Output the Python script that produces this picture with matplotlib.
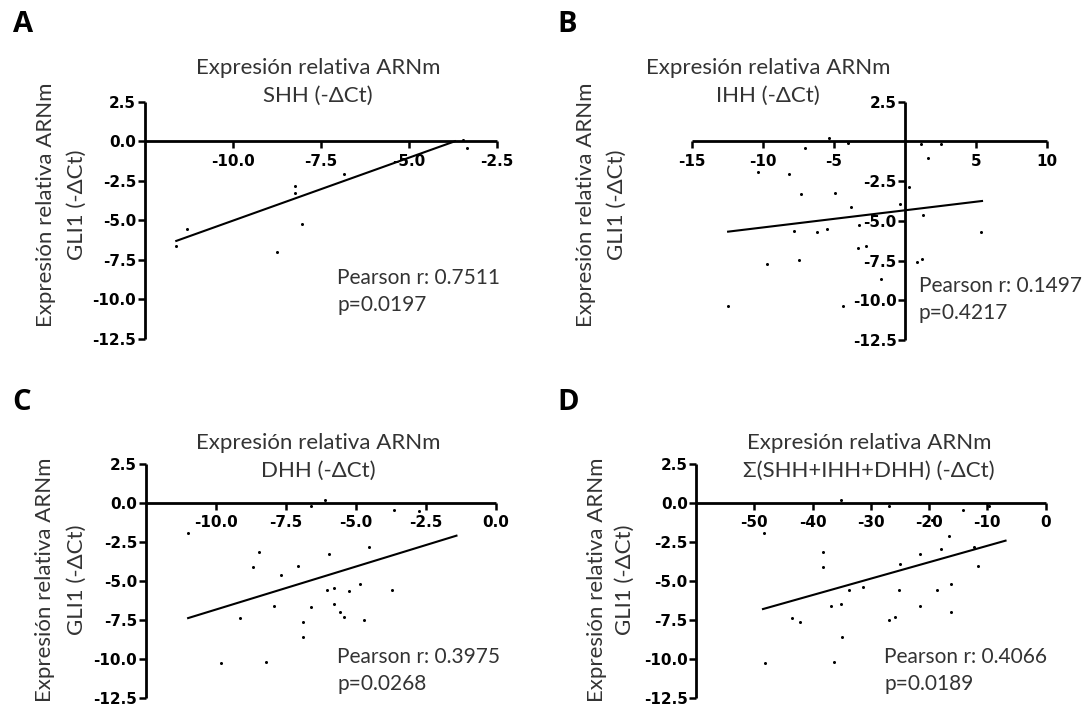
"""Four-panel GLI1 vs hedgehog ligand expression scatter plots."""

import matplotlib

matplotlib.use("Agg")
import matplotlib.pyplot as plt

# Panel A: SHH
shh_x = [-11.6, -11.3, -8.75, -8.24, -8.24, -8.04, -6.85, -3.48, -3.36]
shh_y = [-6.65, -5.55, -7.0, -2.85, -3.25, -5.2, -2.07, 0.1, -0.4]
shh_fit_x = [-11.6, -3.7]
shh_fit_y = [-6.3, 0.0]

# Panel B: IHH
ihh_x = [-5.37, -4.02, -7.02, 1.1, 2.56, 1.59, -10.37, -8.17, 0.29, -7.32,
         -4.93, -3.83, -0.37, 1.29, -3.22, -7.8, -6.22, -5.49, 5.37, -3.29,
         -2.73, -9.71, -7.44, 0.85, 1.17, -1.71, -12.44, -4.39]
ihh_y = [0.21, -0.1, -0.42, -0.17, -0.17, -1.02, -1.95, -2.08, -2.86, -3.28,
         -3.22, -4.13, -3.96, -4.66, -5.25, -5.61, -5.68, -5.51, -5.68, -6.74,
         -6.57, -7.73, -7.46, -7.58, -7.37, -8.69, -10.38, -10.34]
ihh_fit_x = [-12.44, 5.41]
ihh_fit_y = [-5.68, -3.75]

# Panel C: DHH
dhh_x = [-6.10, -6.59, -3.64, -2.74, -10.98, -8.44, -5.95, -4.52, -8.67, -7.06,
         -7.67, -6.04, -5.79, -5.25, -4.85, -3.71, -7.91, -6.59, -5.77, -5.55,
         -5.43, -9.12, -4.69, -6.90, -6.90, -9.82, -8.20]
dhh_y = [0.21, -0.17, -0.43, -0.54, -1.93, -3.15, -3.25, -2.85, -4.11, -4.07,
         -4.65, -5.57, -5.46, -5.63, -5.20, -5.61, -6.6, -6.68, -6.49, -7.02,
         -7.34, -7.39, -7.49, -7.67, -8.63, -10.28, -10.24]
dhh_fit_x = [-10.98, -1.41]
dhh_fit_y = [-7.39, -2.10]

# Panel D: sum of the three ligands
sum_x = [-35.05, -26.95, -14.18, -9.63, -48.3, -19.4, -16.55, -38.2, -21.6, -17.9,
         -12.2, -38.2, -25.0, -11.6, -33.7, -31.3, -25.1, -18.7, -16.3, -36.9,
         -35.05, -21.6, -16.3, -43.5, -42.1, -26.8, -25.9, -34.9, -48.2, -36.3]
sum_y = [0.21, -0.17, -0.43, -0.21, -1.93, -1.11, -2.10, -3.15, -3.25, -2.96,
         -2.85, -4.11, -3.90, -4.07, -5.61, -5.42, -5.57, -5.61, -5.20, -6.60,
         -6.49, -6.64, -7.0, -7.39, -7.67, -7.49, -7.32, -8.63, -10.28, -10.24]
sum_fit_x = [-48.5, -6.86]
sum_fit_y = [-6.81, -2.42]

y_ticks = [2.5, 0.0, -2.5, -5.0, -7.5, -10.0, -12.5]

FIG_W, FIG_H = 1083, 708
TEXT_FONT = ["Lato", "DejaVu Sans"]
TICK_FONT = ["DejaVu Sans"]
TEXT_COLOR = "#333333"


def fig_box(x0, x1, y_top, y_bottom):
    """Convert a pixel box into figure-fraction axes rectangle."""
    return [x0 / FIG_W, 1 - y_bottom / FIG_H, (x1 - x0) / FIG_W, (y_bottom - y_top) / FIG_H]


def draw_panel(fig, box, x, y, fit_x, fit_y, *, xlim, xticks, xfmt, yticks,
               y_spine_at_zero):
    ax = fig.add_axes(box)
    ax.set_xlim(*xlim)
    ax.set_ylim(-12.5, 2.5)
    ax.plot(x, y, "o", color="black", markersize=2.2, markeredgewidth=0, clip_on=False)
    ax.plot(fit_x, fit_y, color="black", linewidth=1.5, clip_on=False)

    for side in ("top", "right"):
        ax.spines[side].set_visible(False)
    ax.spines["bottom"].set_position(("data", 0))
    if y_spine_at_zero:
        ax.spines["left"].set_position(("data", 0))
    for side in ("bottom", "left"):
        ax.spines[side].set_linewidth(2.0)
        ax.spines[side].set_capstyle("butt")

    ax.set_xticks(xticks)
    ax.set_xticklabels([xfmt.format(v) for v in xticks])
    ax.set_yticks(yticks)
    ax.set_yticklabels([f"{v:.1f}" for v in yticks])
    ax.tick_params(axis="both", direction="out", length=5, width=1.8,
                   labelsize=11, colors="black")
    ax.tick_params(axis="x", pad=4)
    ax.tick_params(axis="y", pad=1)
    for label in ax.get_xticklabels() + ax.get_yticklabels():
        label.set_fontweight("bold")
        label.set_family(TICK_FONT)
    ax.patch.set_visible(False)
    return ax


def label_text(fig, px, py, text, **kwargs):
    opts = dict(ha="center", va="center", fontsize=16, family=TEXT_FONT, color=TEXT_COLOR)
    opts.update(kwargs)
    fig.text(px / FIG_W, 1 - py / FIG_H, text, **opts)


fig = plt.figure(figsize=(FIG_W / 100, FIG_H / 100), dpi=100)

panels = [
    dict(letter="A", gene="SHH (-ΔCt)", x=shh_x, y=shh_y, fit_x=shh_fit_x, fit_y=shh_fit_y,
         box=fig_box(144.5, 497.3, 101.7, 339), xlim=(-12.5, -2.5),
         xticks=[-10.0, -7.5, -5.0, -2.5], xfmt="{:.1f}", yticks=y_ticks, zero=False,
         letter_xy=(23, 25), title_xy=(318, 68), ylab_x=(46, 77), ylab_y=205,
         stat_xy=(337, 278), r="0.7511", p="0.0197"),
    dict(letter="B", gene="IHH (-ΔCt)", x=ihh_x, y=ihh_y, fit_x=ihh_fit_x, fit_y=ihh_fit_y,
         box=fig_box(691.7, 1047.3, 101.7, 340), xlim=(-15, 10),
         xticks=[-15, -10, -5, 5, 10], xfmt="{:.0f}",
         yticks=[v for v in y_ticks if v != 0.0], zero=True,
         letter_xy=(567, 25), title_xy=(768, 68), ylab_x=(586, 617), ylab_y=205,
         stat_xy=(919, 286), r="0.1497", p="0.4217"),
    dict(letter="C", gene="DHH (-ΔCt)", x=dhh_x, y=dhh_y, fit_x=dhh_fit_x, fit_y=dhh_fit_y,
         box=fig_box(145.5, 496, 464, 697.7), xlim=(-12.5, 0.0),
         xticks=[-10.0, -7.5, -5.0, -2.5, 0.0], xfmt="{:.1f}", yticks=y_ticks, zero=False,
         letter_xy=(22, 403), title_xy=(318, 443), ylab_x=(45, 77), ylab_y=580,
         stat_xy=(337, 657), r="0.3975", p="0.0268"),
    dict(letter="D", gene="Σ(SHH+IHH+DHH) (-ΔCt)", x=sum_x, y=sum_y, fit_x=sum_fit_x,
         fit_y=sum_fit_y, box=fig_box(696, 1045.5, 464, 697.7), xlim=(-60, 0),
         xticks=[-50, -40, -30, -20, -10, 0], xfmt="{:.0f}", yticks=y_ticks, zero=False,
         letter_xy=(568, 402), title_xy=(869, 443), ylab_x=(597, 625), ylab_y=580,
         stat_xy=(884, 657), r="0.4066", p="0.0189"),
]

for panel in panels:
    draw_panel(
        fig, panel["box"], panel["x"], panel["y"], panel["fit_x"], panel["fit_y"],
        xlim=panel["xlim"], xticks=panel["xticks"], xfmt=panel["xfmt"],
        yticks=panel["yticks"], y_spine_at_zero=panel["zero"],
    )
    lx, ly = panel["letter_xy"]
    label_text(fig, lx, ly, panel["letter"], fontsize=21, fontweight="bold", color="black",
               family=["Open Sans", "DejaVu Sans"])
    tx, ty = panel["title_xy"]
    label_text(fig, tx, ty, "Expresión relativa ARNm")
    label_text(fig, tx, ty + 28, panel["gene"])
    x1, x2 = panel["ylab_x"]
    label_text(fig, x1, panel["ylab_y"], "Expresión relativa ARNm", rotation=90)
    label_text(fig, x2, panel["ylab_y"], "GLI1 (-ΔCt)", rotation=90)
    sx, sy = panel["stat_xy"]
    label_text(fig, sx, sy, f"Pearson r: {panel['r']}", ha="left", fontsize=15)
    label_text(fig, sx, sy + 27, f"p={panel['p']}", ha="left", fontsize=15)

fig.savefig("out.png", dpi=100)
